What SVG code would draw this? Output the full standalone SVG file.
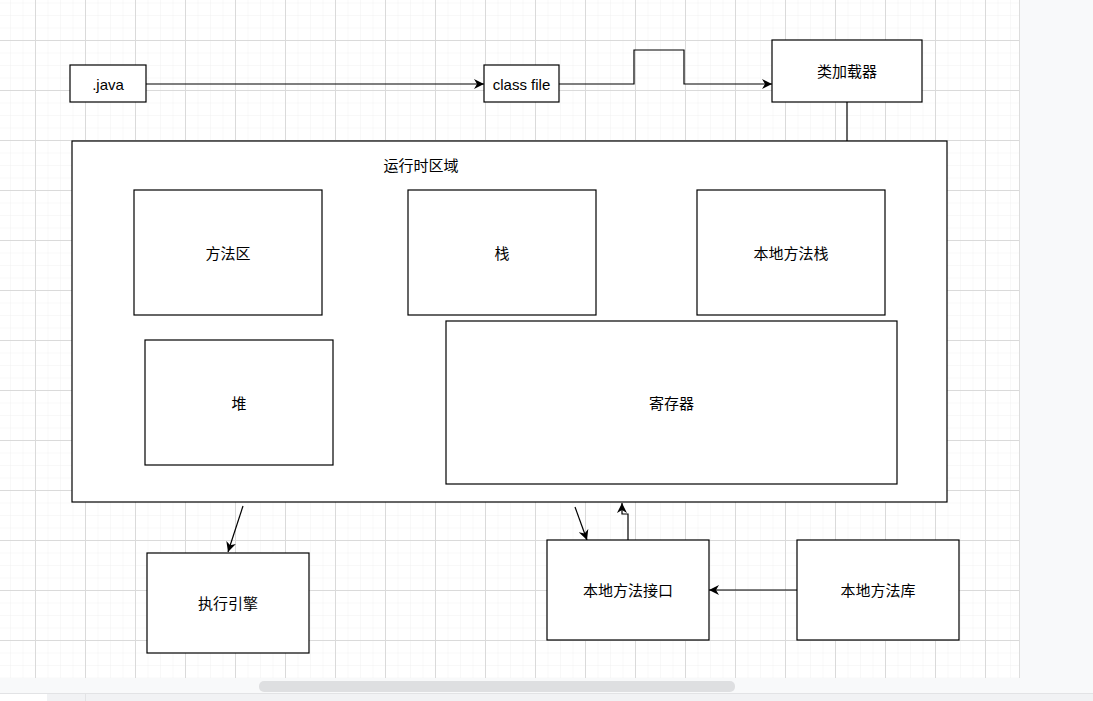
<svg xmlns="http://www.w3.org/2000/svg" width="1093" height="701" viewBox="0 0 1093 701">
<defs>
<pattern id="minor" x="10" y="2.5" width="12.5" height="12.5" patternUnits="userSpaceOnUse">
<path d="M0 0H12.5M0 0V12.5" fill="none" stroke="#f1f1f1" stroke-width="1"/>
</pattern>
<pattern id="major" x="35" y="40" width="50" height="50" patternUnits="userSpaceOnUse">
<path d="M0 0.5H50M0.5 0V50" fill="none" stroke="#dadada" stroke-width="1"/>
</pattern>
<marker id="arr" viewBox="0 0 10 10" refX="10" refY="5" markerWidth="10" markerHeight="10" markerUnits="userSpaceOnUse" orient="auto">
<path d="M0 0L10 5L0 10L3 5Z" fill="#000"/>
</marker>
</defs>
<style>
.box{fill:#fff;stroke:#000;stroke-width:1.2}
.t{font-family:"Liberation Sans","Noto Sans CJK SC",sans-serif;font-size:15px;fill:#000;text-anchor:middle;dominant-baseline:central}
.c{fill:none;stroke:#000;stroke-width:1.2}
</style>
<rect width="1093" height="701" fill="#fff"/>
<rect x="0" y="0" width="1019" height="678" fill="url(#minor)"/>
<rect x="0" y="0" width="1019" height="678" fill="url(#major)"/>
<rect x="1019" y="0" width="74" height="701" fill="#f8f9fa"/>
<line x1="1019.5" y1="0" x2="1019.5" y2="678" stroke="#dddddd"/>
<rect x="0" y="678" width="1019" height="23" fill="#f8f9fa"/>
<rect x="259" y="681" width="476" height="11" rx="5" fill="#dedfe1"/>
<line x1="0" y1="693.5" x2="1093" y2="693.5" stroke="#e2e3e5"/>
<rect x="0" y="694" width="1093" height="7" fill="#f1f2f4"/>
<rect x="0" y="694" width="47" height="7" fill="#fff"/>
<line x1="85.5" y1="694" x2="85.5" y2="701" stroke="#e2e3e5"/>

<g id="connectors">
<path class="c" d="M146 84H484" marker-end="url(#arr)"/>
<path class="c" d="M559 84H634V50H684V84H772" marker-end="url(#arr)"/>
<path class="c" d="M847 102V141"/>
<path class="c" d="M243 506L228 552" marker-end="url(#arr)"/>
<path class="c" d="M575 507L587 540" marker-end="url(#arr)"/>
<path class="c" d="M628 540V514H622V503" marker-end="url(#arr)"/>
<path class="c" d="M797 590H709" marker-end="url(#arr)"/>
</g>

<g id="runtime">
<rect class="box" x="72" y="141" width="875" height="361"/>
<text class="t" x="421" y="165">运行时区域</text>
</g>
<g id="java"><rect class="box" x="70" y="65" width="76" height="37"/><text class="t" x="108" y="84">.java</text></g>
<g id="classfile"><rect class="box" x="484" y="65" width="75" height="37"/><text class="t" x="521.5" y="84">class file</text></g>
<g id="loader"><rect class="box" x="772" y="40" width="150" height="62"/><text class="t" x="847" y="71">类加载器</text></g>
<g id="method"><rect class="box" x="134" y="190" width="188" height="125"/><text class="t" x="228" y="253">方法区</text></g>
<g id="stack"><rect class="box" x="408" y="190" width="188" height="125"/><text class="t" x="502" y="253">栈</text></g>
<g id="nstack"><rect class="box" x="697" y="190" width="188" height="125"/><text class="t" x="791" y="253">本地方法栈</text></g>
<g id="heap"><rect class="box" x="145" y="340" width="188" height="125"/><text class="t" x="239" y="403">堆</text></g>
<g id="reg"><rect class="box" x="446" y="321" width="451" height="163"/><text class="t" x="671.5" y="403">寄存器</text></g>
<g id="engine"><rect class="box" x="147" y="553" width="162" height="100"/><text class="t" x="228" y="603">执行引擎</text></g>
<g id="nif"><rect class="box" x="547" y="540" width="162" height="100"/><text class="t" x="628" y="590">本地方法接口</text></g>
<g id="nlib"><rect class="box" x="797" y="540" width="162" height="100"/><text class="t" x="878" y="590">本地方法库</text></g>
</svg>
